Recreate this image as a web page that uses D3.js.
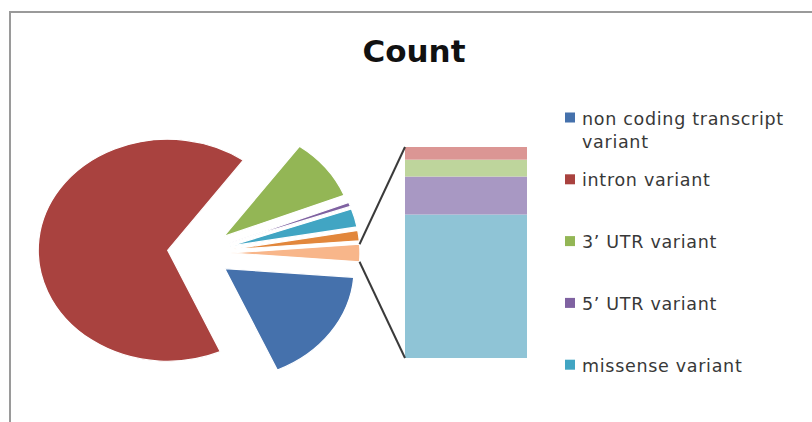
<!DOCTYPE html>
<html>
<head>
<meta charset="utf-8">
<script src="https://cdn.jsdelivr.net/npm/d3@7/dist/d3.min.js"></script>
<style>
  html, body { margin: 0; padding: 0; background: #fff; }
  svg { display: block; }
</style>
</head>
<body>
<svg id="chart" width="812" height="422"></svg>
<script>
// Variant consequence counts: pie of bar
const title = "Count";
const pieCategories = [
  "non coding transcript variant",
  "intron variant",
  "3’ UTR variant",
  "5’ UTR variant",
  "missense variant",
  "synonymous variant"
];
const pieCounts = [340, 1326, 180, 12, 53, 30];
const barCategories = [
  "splice region variant",
  "downstream gene variant",
  "upstream gene variant",
  "stop gained"
];
const barCounts = [34, 9, 4, 3];
const otherLabel = "Other";
const pieColors = ["#4571AC", "#A9423F", "#93B655", "#7F62A1", "#41A5C3", "#E2873C"];
const otherColor = "#F8B68A";
const barColors = ["#8FC4D6", "#A898C3", "#BED59C", "#DB9694"];
const legendShown = 5;

const svg = d3.select("#chart");

// chart frame
svg.append("rect")
  .attr("x", 10).attr("y", 12)
  .attr("width", 830).attr("height", 440)
  .attr("fill", "none").attr("stroke", "#9a9a9a").attr("stroke-width", 2);

svg.append("text")
  .attr("x", 414).attr("y", 62)
  .attr("text-anchor", "middle")
  .attr("font-family", "DejaVu Sans, sans-serif")
  .attr("font-weight", "bold")
  .attr("font-size", 31)
  .attr("fill", "#111")
  .text(title);

// ---- pie ----
const otherTotal = d3.sum(barCounts);
const pieData = pieCategories.map((c, i) => ({ name: c, value: pieCounts[i], color: pieColors[i] }))
  .concat([{ name: otherLabel, value: otherTotal, color: otherColor, other: true }]);

const total = d3.sum(pieData, d => d.value);
const otherSweep = otherTotal / total * 2 * Math.PI;
// the "Other" slice is centred on the right, facing the bar
const start = Math.PI / 2 + otherSweep / 2;

const cx = 199, cy = 253, radius = 111, explode = 27, stretch = 1.166;

const pie = d3.pie().sort(null).value(d => d.value)
  .startAngle(start).endAngle(start + 2 * Math.PI);
const arc = d3.arc().innerRadius(0).outerRadius(radius);
const arcs = pie(pieData);

const pieG = svg.append("g")
  .attr("transform", `translate(${cx},${cy}) scale(${stretch},1)`);

function offset(d) {
  const m = (d.startAngle + d.endAngle) / 2;
  return [Math.sin(m) * explode, -Math.cos(m) * explode];
}

pieG.selectAll("path.slice")
  .data(arcs)
  .join("path")
  .attr("class", "slice")
  .attr("transform", d => { const o = offset(d); return `translate(${o[0]},${o[1]})`; })
  .attr("d", arc)
  .attr("fill", d => d.data.color)
  .attr("stroke", "#fff")
  .attr("stroke-width", 1.2)
  .attr("vector-effect", "non-scaling-stroke");

// ---- bar of the "Other" slice ----
const barX = 405, barW = 122;
const y = d3.scaleLinear().domain([0, otherTotal]).range([358, 147]);
let acc = 0;
const stacked = barCounts.map((v, i) => {
  const s = { name: barCategories[i], y0: acc, y1: acc + v, color: barColors[i] };
  acc += v;
  return s;
});

svg.append("g").selectAll("rect")
  .data(stacked)
  .join("rect")
  .attr("x", barX)
  .attr("width", barW)
  .attr("y", d => y(d.y1))
  .attr("height", d => y(d.y0) - y(d.y1))
  .attr("fill", d => d.color);

// connector lines from the "Other" slice corners to the bar
const otherArc = arcs.find(d => d.data.other);
const oo = offset(otherArc);
function corner(a) {
  return [cx + stretch * (oo[0] + Math.sin(a) * radius), cy + oo[1] - Math.cos(a) * radius];
}
const topCorner = corner(otherArc.startAngle);
const botCorner = corner(otherArc.endAngle);
const lines = [
  [topCorner, [barX, y(otherTotal)]],
  [botCorner, [barX, y(0)]]
];
svg.append("g").selectAll("line")
  .data(lines)
  .join("line")
  .attr("x1", d => d[0][0]).attr("y1", d => d[0][1])
  .attr("x2", d => d[1][0]).attr("y2", d => d[1][1])
  .attr("stroke", "#3a3a3a").attr("stroke-width", 2);

// ---- legend ----
const legend = svg.append("g");
const rowY = d3.scaleLinear().domain([0, 1]).range([118, 179.8]);
const items = pieData.slice(0, legendShown);
const rows = legend.selectAll("g.row")
  .data(items)
  .join("g")
  .attr("class", "row")
  .attr("transform", (d, i) => `translate(0,${rowY(i)})`);

rows.append("rect")
  .attr("x", 565).attr("y", -5.5)
  .attr("width", 10).attr("height", 10)
  .attr("fill", d => d.color);

rows.each(function (d) {
  const t = d3.select(this).append("text")
    .attr("x", 582).attr("y", 6.5)
    .attr("font-family", "DejaVu Sans, sans-serif")
    .attr("font-size", 17.5)
    .attr("letter-spacing", 0.7)
    .attr("fill", "#383838");
  const words = d.name.split(" ");
  let line = [];
  let tspan = t.append("tspan").attr("x", 582);
  words.forEach(w => {
    line.push(w);
    tspan.text(line.join(" "));
    if (tspan.node().getComputedTextLength() > 218 && line.length > 1) {
      line.pop();
      tspan.text(line.join(" "));
      line = [w];
      tspan = t.append("tspan").attr("x", 582).attr("dy", 23).text(w);
    }
  });
});
</script>
</body>
</html>
